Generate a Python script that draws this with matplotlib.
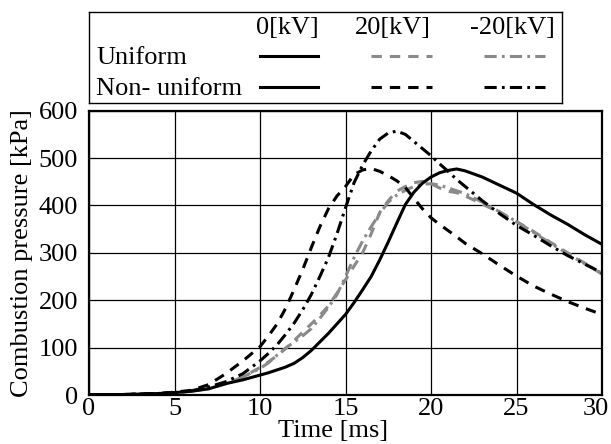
import matplotlib
matplotlib.use("Agg")
import matplotlib.pyplot as plt
from matplotlib.lines import Line2D
from matplotlib.transforms import ScaledTranslation

plt.rcParams['font.family'] = ['Liberation Serif', 'DejaVu Serif']
plt.rcParams['font.size'] = 19

# ---- data ----
time_ms = [0, 1, 2, 3, 4, 5, 6, 7, 8, 9, 10,
           10.5, 11, 11.5, 12, 12.5, 13, 13.5, 14, 14.5, 15, 15.5, 16,
           16.5, 17, 17.5, 18, 18.5, 19, 19.5, 20, 20.5, 21, 21.5, 22,
           23, 24, 25, 26, 27, 28, 29, 30]

p_0kv = [1, 1, 1, 2, 3, 5, 8, 13, 24, 32, 42,
         47, 53, 59, 67, 79, 94, 112, 130, 150, 170, 195, 222,
         250, 285, 323, 363, 402, 428, 447, 460, 469, 474, 477, 473,
         460, 443, 426, 402, 380, 360, 338, 318]

p_nonuni_20kv = [1, 1, 1, 2, 3, 6, 10, 22, 45, 72, 102,
                 125, 150, 183, 223, 265, 311, 355, 393, 420, 440, 465, 475,
                 478, 472, 463, 452, 438, 415, 393, 374, 360, 347, 334, 320,
                 298, 274, 251, 230, 213, 197, 183, 170]

p_nonuni_m20kv = [1, 1, 1, 2, 3, 5, 9, 17, 28, 45, 72,
                  88, 106, 128, 152, 180, 212, 250, 290, 340, 395, 448, 485,
                  515, 540, 553, 557, 550, 535, 520, 505, 488, 472, 455, 440,
                  410, 383, 358, 337, 315, 294, 276, 258]

p_uni_20kv = [1, 1, 1, 2, 3, 5, 8, 14, 24, 38, 58,
              70, 83, 98, 115, 133, 150, 168, 188, 215, 243, 272, 300,
              340, 385, 410, 430, 440, 448, 451, 446, 437, 430, 427, 420,
              403, 385, 366, 345, 322, 300, 278, 255]

p_uni_m20kv = [1, 1, 1, 2, 3, 5, 8, 14, 24, 38, 56,
               68, 84, 99, 112, 125, 140, 162, 185, 212, 250, 290, 325,
               355, 383, 407, 422, 432, 440, 445, 446, 443, 437, 431, 425,
               407, 387, 366, 343, 320, 298, 277, 257]

x_ticks = [0, 5, 10, 15, 20, 25, 30]
y_ticks = [0, 100, 200, 300, 400, 500, 600]
col_labels = ["0[kV]", "20[kV]", "-20[kV]"]
row_labels = ["Uniform", "Non- uniform"]

GRAY = '#8a8a8a'
LW = 2.2
DASH = (3.4, 2.6)
DASHDOT = (4.0, 1.7, 0.9, 1.7)

fig = plt.figure(figsize=(6.11, 4.44), dpi=100)
W, H = 611, 444
ax = fig.add_axes([89 / W, 1 - 395 / H, (602 - 89) / W, (395 - 110.7) / H])

ax.plot(time_ms, p_uni_20kv, color=GRAY, lw=LW, dashes=DASH)
ax.plot(time_ms, p_uni_m20kv, color=GRAY, lw=LW, dashes=DASHDOT)
ax.plot(time_ms, p_0kv, color='black', lw=LW)
ax.plot(time_ms, p_nonuni_20kv, color='black', lw=LW, dashes=DASH)
ax.plot(time_ms, p_nonuni_m20kv, color='black', lw=LW, dashes=DASHDOT)

ax.set_xlim(0, 30)
ax.set_ylim(0, 600)
ax.set_xticks(x_ticks)
ax.set_yticks(y_ticks)
ax.grid(True, color='black', lw=0.9)
ax.set_axisbelow(True)
for s in ax.spines.values():
    s.set_linewidth(1.6)
ax.tick_params(axis='both', length=0)
ax.tick_params(axis='y', pad=8)
ax.tick_params(axis='x', pad=2)
ax.set_xlabel("Time [ms]")
ax.xaxis.set_label_coords((333 - 89) / 513, -0.088)
ax.set_ylabel("Combustion pressure [kPa]", labelpad=4)

fig.canvas.draw()
last = ax.get_xticklabels()[-1]
last.set_transform(last.get_transform() + ScaledTranslation(-0.065, 0, fig.dpi_scale_trans))

# ---- legend box (table layout) ----
lx0, lx1, ly0, ly1 = 89, 562, 11.7, 103
lax = fig.add_axes([lx0 / W, 1 - ly1 / H, (lx1 - lx0) / W, (ly1 - ly0) / H])
lax.set_xlim(lx0, lx1)
lax.set_ylim(ly1, ly0)
lax.set_xticks([])
lax.set_yticks([])
for s in lax.spines.values():
    s.set_linewidth(1.0)

col_centers = [287, 393, 512]
col_lines = [(260, 318), (371, 432), (484, 545)]
row_y = [58, 89]
for cx, lab in zip(col_centers, col_labels):
    lax.text(cx, 28, lab, ha='center', va='center')
for ry, lab in zip(row_y, row_labels):
    lax.text(96, ry, lab, ha='left', va='center')

styles = [
    [dict(color='black'), dict(color=GRAY, dashes=DASH), dict(color=GRAY, dashes=DASHDOT)],
    [dict(color='black'), dict(color='black', dashes=DASH), dict(color='black', dashes=DASHDOT)],
]
for ry, row in zip(row_y, styles):
    for (xa, xb), st in zip(col_lines, row):
        lax.add_line(Line2D([xa, xb], [ry - 2, ry - 2], lw=LW, **st))

fig.savefig("out.png", dpi=100)
